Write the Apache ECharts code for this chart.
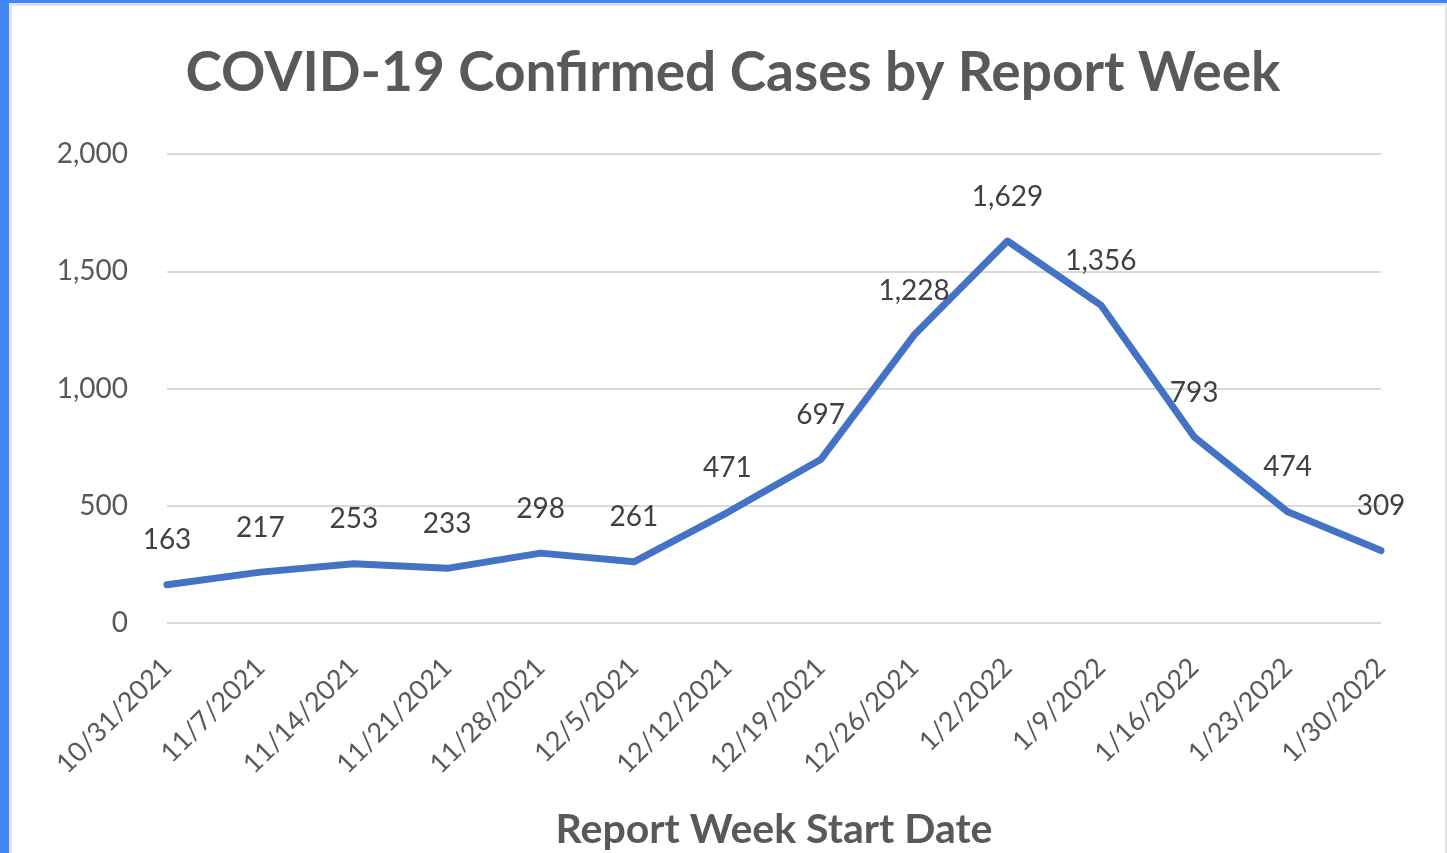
<!DOCTYPE html>
<html>
<head>
<meta charset="utf-8">
<script src="https://cdn.jsdelivr.net/npm/echarts@6/dist/echarts.min.js"></script>
<style>
  html, body { margin: 0; padding: 0; background: #fff; }
  #main { width: 1447px; height: 853px; }
</style>
</head>
<body>
<div id="main"></div>
<script>
// data
var weeks = ['10/31/2021', '11/7/2021', '11/14/2021', '11/21/2021', '11/28/2021', '12/5/2021',
  '12/12/2021', '12/19/2021', '12/26/2021', '1/2/2022', '1/9/2022', '1/16/2022', '1/23/2022', '1/30/2022'];
var cases = [163, 217, 253, 233, 298, 261, 471, 697, 1228, 1629, 1356, 793, 474, 309];
var yTicks = [0, 500, 1000, 1500, 2000];

var myChart = echarts.init(document.getElementById('main'));

var fmt = function (v) { return Number(v).toLocaleString('en-US'); };

var option = {
  backgroundColor: '#fff',
  textStyle: { fontFamily: 'Lato' },
  title: {
    text: 'COVID-19 Confirmed Cases by Report Week',
    left: 728, top: 41, textAlign: 'center',
    textStyle: { fontFamily: 'Lato', fontWeight: 'bold', fontSize: 55, color: '#595959' }
  },
  graphic: [
    { type: 'rect', shape: { x: 0, y: 0, width: 9, height: 853 }, style: { fill: '#4285f4' } },
    { type: 'rect', shape: { x: 0, y: 0, width: 1447, height: 3 }, style: { fill: '#4285f4' } },
    { type: 'rect', shape: { x: 9, y: 3, width: 1438, height: 3 }, style: { fill: '#e3e3e3' } },
    { type: 'rect', shape: { x: 9, y: 3, width: 3, height: 850 }, style: { fill: '#e3e3e3' } },
    { type: 'rect', shape: { x: 1445, y: 3, width: 2, height: 850 }, style: { fill: '#e3e3e3' } }
  ],
  grid: { left: 167, right: 66, top: 154, bottom: 230, outerBoundsMode: 'none' },
  xAxis: {
    type: 'category',
    data: weeks,
    boundaryGap: false,
    name: 'Report Week Start Date',
    nameLocation: 'middle',
    nameGap: 186,
    nameTextStyle: { fontFamily: 'Lato', fontWeight: 'bold', fontSize: 41, color: '#595959' },
    axisLine: { show: false },
    axisTick: { show: false },
    axisLabel: { rotate: 45, margin: 40, fontSize: 27, color: '#595959' }
  },
  yAxis: {
    type: 'value',
    min: yTicks[0], max: yTicks[yTicks.length - 1], interval: yTicks[1] - yTicks[0],
    axisLine: { show: false },
    axisTick: { show: false },
    axisLabel: { margin: 39, fontSize: 28, color: '#595959', formatter: fmt },
    splitLine: { lineStyle: { color: '#d9d9d9', width: 2 } }
  },
  series: [{
    type: 'line',
    data: cases,
    showSymbol: true,
    symbol: 'circle',
    symbolSize: 1,
    lineStyle: { color: '#4472c4', width: 7, join: 'round', cap: 'round' },
    itemStyle: { color: '#4472c4' },
    label: {
      show: true, position: 'top', distance: 30,
      fontSize: 28, color: '#404040', formatter: function (p) { return fmt(p.value); }
    }
  }]
};

myChart.setOption(option);

window.addEventListener('resize', function () {
  myChart.resize();
});
</script>
</body>
</html>
